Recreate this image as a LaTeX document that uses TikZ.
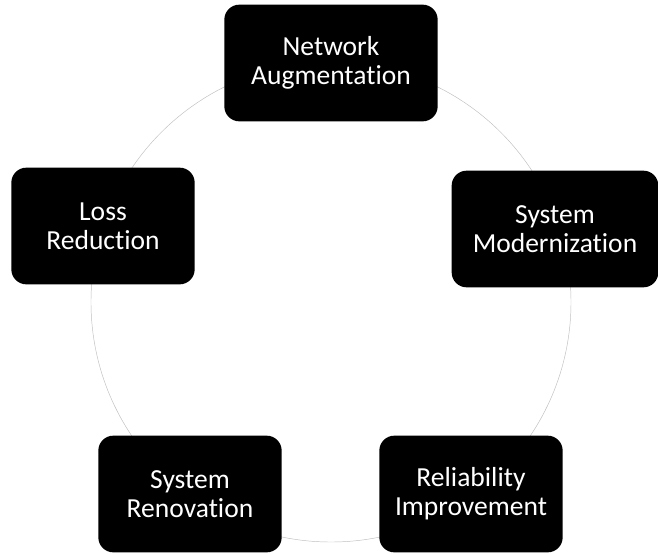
\documentclass[tikz,border=0pt]{standalone}
\usepackage{fontspec}
\setmainfont{Carlito}[Ligatures=NoCommon]
\usepackage{tikz}

\begin{document}
\begin{tikzpicture}[x=0.03cm,y=-0.03cm,
  stage/.style={fill=black,text=white,rounded corners=0.45cm,minimum width=5.5cm,minimum height=3.5cm,align=center,font=\fontsize{23.5}{25}\selectfont}]
\useasboundingbox (0,0) rectangle (658,554);
% cycle ring behind the boxes
\coordinate (mid) at (331,302);
\draw[gray!50,line width=0.4pt] (mid) circle [radius=7.2cm];
\node[stage,minimum width=6.4cm] (net) at (331,63) {Network\\Augmentation};
\node[stage] (loss) at (103,226) {Loss\\Reduction};
\node[stage,minimum width=6.2cm] (mod) at (555,229) {System\\Modernization};
\node[stage] (reno) at (190,494) {System\\Renovation};
\node[stage] (rel) at (471,494) {Reliability\\Improvement};
\end{tikzpicture}
\end{document}
